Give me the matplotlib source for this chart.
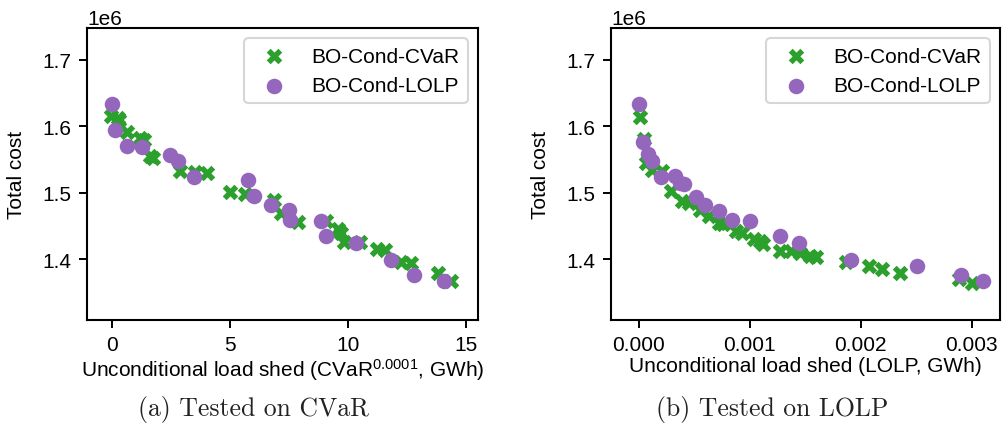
"""
    Total cost vs unconditional load shed, tested on CVaR and LOLP
"""

import matplotlib
matplotlib.use("Agg")
import matplotlib.pyplot as plt

plt.rcParams['font.family'] = ['Liberation Sans', 'DejaVu Sans']
plt.rcParams['mathtext.default'] = 'regular'
plt.rcParams['font.size'] = 15

# (a) tested on CVaR -- x in GWh, cost in 1e6
cvar_x_cvar = [-0.05, 0.27, 0.3, 0.65, 1.19, 1.37, 1.62, 1.76, 2.87, 3.53, 4.03, 4.99, 5.66,
               6.86, 7.15, 7.89, 9.08, 9.56, 9.7, 9.84, 10.52, 11.23, 11.55, 12.26, 12.65,
               13.82, 14.38]
cvar_cost_cvar = [1.615, 1.613, 1.610, 1.591, 1.583, 1.580, 1.555, 1.552, 1.533, 1.531, 1.530,
                  1.501, 1.499, 1.490, 1.470, 1.457, 1.458, 1.446, 1.440, 1.426, 1.426, 1.415,
                  1.414, 1.396, 1.395, 1.380, 1.368]
cvar_x_lolp = [0.0, 0.13, 0.65, 1.29, 2.47, 2.8, 3.48, 5.77, 6.01, 6.72, 7.49, 7.53, 8.86,
               9.08, 10.33, 11.8, 12.8, 14.06]
cvar_cost_lolp = [1.634, 1.594, 1.571, 1.569, 1.557, 1.548, 1.524, 1.520, 1.495, 1.482, 1.474,
                  1.459, 1.458, 1.435, 1.425, 1.399, 1.376, 1.367]

# (b) tested on LOLP
lolp_x_cvar = [0.00001, 0.00005, 0.00007, 0.00012, 0.00021, 0.00029, 0.00039, 0.00045,
               0.00055, 0.00063, 0.00072, 0.00076, 0.00088, 0.00093, 0.00104, 0.00109,
               0.00112, 0.00127, 0.00137, 0.00145, 0.00154, 0.0016, 0.00187, 0.00207,
               0.00219, 0.00235, 0.00288, 0.003]
lolp_cost_cvar = [1.614, 1.581, 1.545, 1.535, 1.533, 1.503, 1.488, 1.485, 1.474, 1.465,
                  1.455, 1.454, 1.443, 1.440, 1.430, 1.428, 1.423, 1.413, 1.413, 1.410,
                  1.405, 1.404, 1.396, 1.390, 1.386, 1.379, 1.370, 1.365]
lolp_x_lolp = [0.0, 0.00004, 0.00008, 0.00012, 0.0002, 0.00033, 0.000375, 0.00041, 0.00052,
               0.0006, 0.00072, 0.00084, 0.001, 0.00127, 0.00144, 0.00191, 0.00251, 0.0029,
               0.0031]
lolp_cost_lolp = [1.634, 1.577, 1.558, 1.548, 1.524, 1.525, 1.515, 1.514, 1.494, 1.482, 1.473,
                  1.460, 1.458, 1.435, 1.425, 1.399, 1.390, 1.377, 1.367]

green = '#2ca02c'
purple = '#9467bd'

fig = plt.figure(figsize=(10.02, 4.35), dpi=100)
ax1 = fig.add_axes([0.0868, 0.2621, 0.3902, 0.6713])
ax2 = fig.add_axes([0.6098, 0.2621, 0.3882, 0.6713])

panels = [
    (ax1, cvar_x_cvar, cvar_cost_cvar, cvar_x_lolp, cvar_cost_lolp,
     'Unconditional load shed (CVaR$^{0.0001}$, GWh)', (-1.05, 15.5), [0, 5, 10, 15]),
    (ax2, lolp_x_cvar, lolp_cost_cvar, lolp_x_lolp, lolp_cost_lolp,
     'Unconditional load shed (LOLP, GWh)', (-0.000249, 0.003253), [0, 0.001, 0.002, 0.003]),
]

for ax, xc, yc, xl, yl, xlabel, xlim, xticks in panels:
    ax.scatter(xc, [v * 1e6 for v in yc], marker='X', s=125, color=green,
               linewidths=0, label='BO-Cond-CVaR')
    ax.scatter(xl, [v * 1e6 for v in yl], marker='o', s=125, color=purple,
               linewidths=0, label='BO-Cond-LOLP')
    ax.set_xlim(*xlim)
    ax.set_ylim(1.309e6, 1.748e6)
    ax.set_xticks(xticks)
    ax.set_yticks([1.4e6, 1.5e6, 1.6e6, 1.7e6])
    ax.set_xlabel(xlabel, labelpad=1)
    ax.set_ylabel('Total cost', labelpad=12)
    ax.tick_params(length=6, width=1.4, pad=5)
    for sp in ax.spines.values():
        sp.set_linewidth(1.5)
    leg = ax.legend(loc='upper right', frameon=True, edgecolor='#cccccc')
    leg.get_frame().set_linewidth(1.5)

ax2.xaxis.set_major_formatter(plt.FormatStrFormatter('%.3f'))

fig.text(253 / 1002, 0.0575, '(a) Tested on CVaR', ha='center', va='center',
         family='cmr10', fontsize=18.5, color='#222222')
fig.text(772 / 1002, 0.0575, '(b) Tested on LOLP', ha='center', va='center',
         family='cmr10', fontsize=18.5, color='#222222')

fig.savefig('out.png', dpi=100)
